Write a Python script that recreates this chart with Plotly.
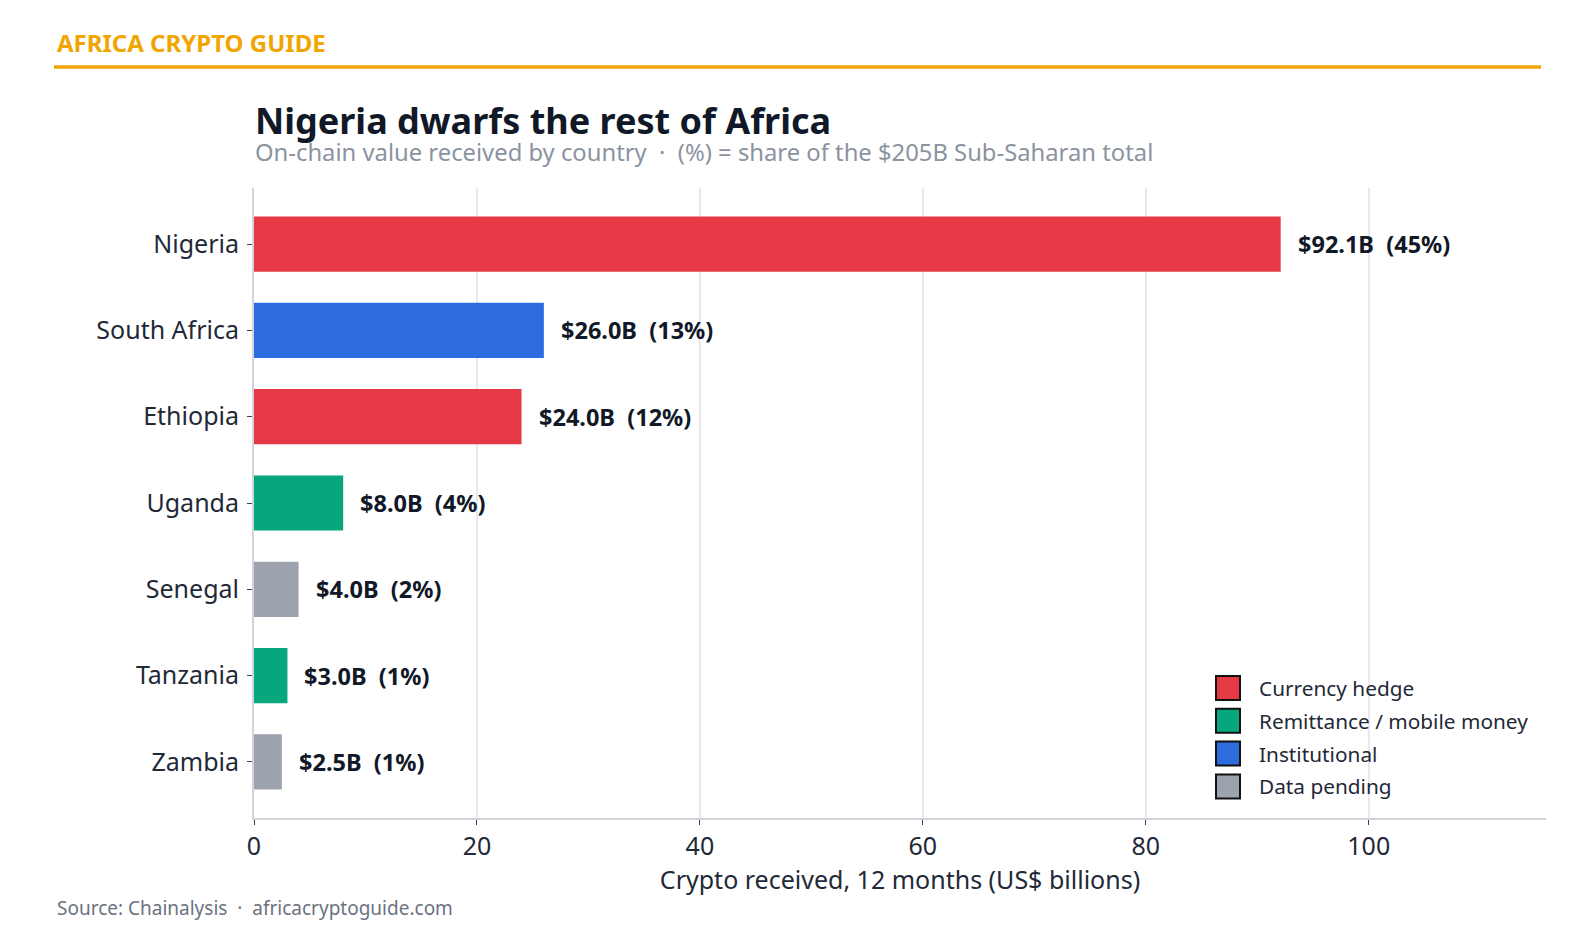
import plotly.graph_objects as go

countries = ["Nigeria", "South Africa", "Ethiopia", "Uganda", "Senegal", "Tanzania", "Zambia"]
values = [92.1, 26.0, 24.0, 8.0, 4.0, 3.0, 2.5]
shares = [45, 13, 12, 4, 2, 1, 1]
groups = ["Currency hedge", "Institutional", "Currency hedge", "Remittance / mobile money",
          "Data pending", "Remittance / mobile money", "Data pending"]
legend_order = ["Currency hedge", "Remittance / mobile money", "Institutional", "Data pending"]
group_colors = {
    "Currency hedge": "#E63946",
    "Remittance / mobile money": "#06A77D",
    "Institutional": "#2D6CDF",
    "Data pending": "#9CA3AF",
}
x_ticks = [0, 20, 40, 60, 80, 100]

FONT = "Noto Sans"
W, H = 1595, 942
L, R, T, B = 254, 49, 188, 124
PW, PH = W - L - R, H - T - B
NB = "&nbsp;"


def px(x):
    return (x - L) / PW


def py(y):
    return (H - B - y) / PH


fig = go.Figure()
fig.add_trace(go.Bar(
    y=countries, x=values, orientation="h",
    marker=dict(color=[group_colors[g] for g in groups], line=dict(width=0)),
    width=0.64, showlegend=False, hoverinfo="x+y",
))

annotations = []
for c, v, s in zip(countries, values, shares):
    annotations.append(dict(
        x=v, y=c, xref="x", yref="y", text=f"<b>${v:.1f}B{NB}{NB}({s}%)</b>",
        showarrow=False, xanchor="left", yanchor="middle", xshift=15,
        font=dict(family=FONT, size=23.5, color="#111827"),
    ))

shapes = []
# custom legend
for i, g in enumerate(legend_order):
    cy = 688 + i * 32.8
    shapes.append(dict(type="rect", xref="paper", yref="paper",
                       x0=px(1216), x1=px(1240), y0=py(cy + 12), y1=py(cy - 12),
                       fillcolor=group_colors[g], line=dict(color="#111111", width=2)))
    annotations.append(dict(x=px(1257), y=py(cy), xref="paper", yref="paper", text=g,
                            showarrow=False, xanchor="left", yanchor="middle",
                            font=dict(family=FONT, size=20.8, color="#1f2937")))

# header
annotations.append(dict(x=px(55), y=py(43), xref="paper", yref="paper",
                        text="<b>AFRICA CRYPTO GUIDE</b>", showarrow=False,
                        xanchor="left", yanchor="middle",
                        font=dict(family=FONT, size=24, color="#F0A500")))
shapes.append(dict(type="line", xref="paper", yref="paper", x0=px(54), x1=px(1541),
                   y0=py(67), y1=py(67), line=dict(color="#F0A500", width=3.5)))
# title / subtitle
annotations.append(dict(x=px(253), y=py(121), xref="paper", yref="paper",
                        text="<b>Nigeria dwarfs the rest of Africa</b>", showarrow=False,
                        xanchor="left", yanchor="middle",
                        font=dict(family=FONT, size=36, color="#111827")))
annotations.append(dict(x=px(253), y=py(152), xref="paper", yref="paper",
                        text=f"On-chain value received by country{NB}{NB}\u00b7{NB}{NB}(%) = share of the $205B Sub-Saharan total",
                        showarrow=False, xanchor="left", yanchor="middle",
                        font=dict(family=FONT, size=23.8, color="#8b93a1")))
# footer
annotations.append(dict(x=px(55), y=py(908), xref="paper", yref="paper",
                        text=f"Source: Chainalysis{NB}{NB}\u00b7{NB}{NB}africacryptoguide.com", showarrow=False,
                        xanchor="left", yanchor="middle",
                        font=dict(family=FONT, size=19, color="#6b7280")))

fig.update_layout(
    width=W, height=H,
    margin=dict(l=L, r=R, t=T, b=B, pad=0),
    paper_bgcolor="white", plot_bgcolor="white",
    font=dict(family=FONT, color="#1f2937"),
    annotations=annotations, shapes=shapes,
    bargap=0.36,
)
fig.update_xaxes(
    range=[0, 115.9], tickvals=x_ticks, ticktext=[str(t) for t in x_ticks],
    showgrid=True, gridcolor="#e8e8ee", gridwidth=1.5,
    zeroline=False, showline=True, linecolor="#d1d5db", linewidth=1.5,
    ticks="outside", ticklen=5, tickcolor="#374151",
    tickfont=dict(family=FONT, size=25, color="#1f2937"),
    title=dict(text="Crypto received, 12 months (US$ billions)",
               font=dict(family=FONT, size=25, color="#1f2937"), standoff=8),
)
fig.update_yaxes(
    categoryorder="array", categoryarray=countries, autorange=False,
    range=[6.65, -0.65],
    showgrid=False, zeroline=False, showline=True, linecolor="#d1d5db", linewidth=2,
    ticks="outside", ticklen=5, tickcolor="#374151",
    tickfont=dict(family=FONT, size=25, color="#1f2937"),
    ticklabelstandoff=3,
)

fig.write_html("out.html")
